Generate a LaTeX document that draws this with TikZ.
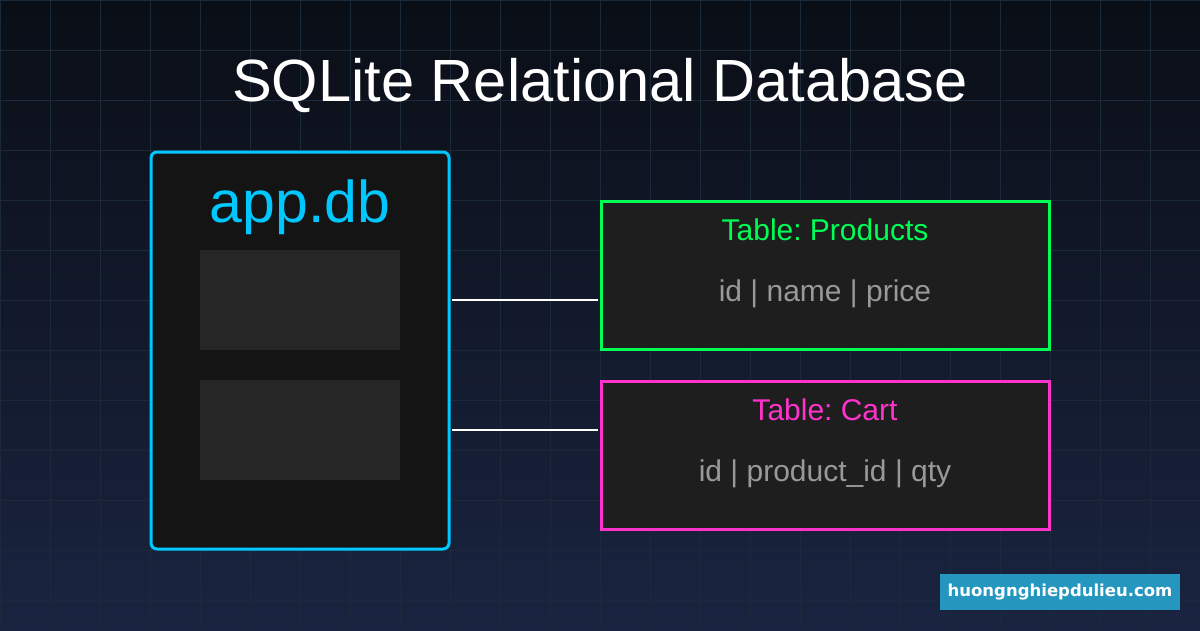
\documentclass[tikz,border=0pt]{standalone}
\usepackage{fontspec}
\setmainfont{Liberation Sans}
\newfontfamily\wmfont{DejaVu Sans}
\frenchspacing
\definecolor{bgtop}{HTML}{0A0E16}
\definecolor{bgbot}{HTML}{1A2440}
\definecolor{gridc}{HTML}{1B2A3A}
\definecolor{cyanc}{HTML}{00C8FF}
\definecolor{greenc}{HTML}{00FF55}
\definecolor{pinkc}{HTML}{FF33CC}
\definecolor{dbfill}{HTML}{141414}
\definecolor{slotfill}{HTML}{262626}
\definecolor{tabfill}{HTML}{1E1E1E}
\definecolor{graytext}{HTML}{999999}
\definecolor{wmblue}{HTML}{2596BE}
\begin{document}
\begin{tikzpicture}[x=1pt,y=-1pt,
  tablebox/.style={draw=#1,line width=3pt,fill=tabfill,minimum width=448pt,minimum height=148pt,inner sep=0pt},
  slot/.style={fill=slotfill,minimum width=200pt,minimum height=100pt,inner sep=0pt},
  link/.style={draw=white,line width=2pt},
  tabtext/.style={font=\fontsize{30}{32}\selectfont,anchor=base,inner sep=0pt}]
\useasboundingbox (0,0) rectangle (1200,630);
\shade[top color=bgtop,bottom color=bgbot] (0,0) rectangle (1200,630);
\foreach \x in {0,50,...,1200} \draw[gridc,line width=1pt] (\x,0) -- (\x,630);
\foreach \y in {0,50,...,600} \draw[gridc,line width=1pt] (0,\y) -- (1200,\y);
\node[text=white,font=\fontsize{59.6}{64}\selectfont,anchor=base,inner sep=0pt] (title) at (600,101) {SQLite Relational Database};
\node[draw=cyanc,line width=3pt,fill=dbfill,rounded corners=6pt,minimum width=298pt,minimum height=397pt,inner sep=0pt] (db) at (300,350.5) {};
\node[text=cyanc,font=\fontsize{59}{62}\selectfont,anchor=base,inner sep=0pt] (dbname) at (300,222) {app.db};
\node[slot] (s1) at (300,300) {};
\node[slot] (s2) at (300,430) {};
\node[tablebox=greenc] (prod) at (825,275) {};
\node[tablebox=pinkc] (cart) at (825,455) {};
\node[tabtext,text=greenc] (prodt) at (825,240) {Table: Products};
\node[tabtext,text=graytext] (prodc) at (825,301) {id | name | price};
\node[tabtext,text=pinkc] (cartt) at (825,420) {Table: Cart};
\node[tabtext,text=graytext] (cartc) at (825,481) {id | product\_id | qty};
\path[link] ([xshift=1.5pt]db.east |- s1) -- ([xshift=-1.5pt]prod.west |- s1);
\path[link] ([xshift=1.5pt]db.east |- s2) -- ([xshift=-1.5pt]cart.west |- s2);
\node[fill=wmblue,text=white,font=\wmfont\bfseries\fontsize{16.5}{18}\selectfont,minimum width=240pt,minimum height=36pt,inner sep=0pt] (wm) at (1060,592) {huongnghiepdulieu.com};
\end{tikzpicture}
\end{document}
